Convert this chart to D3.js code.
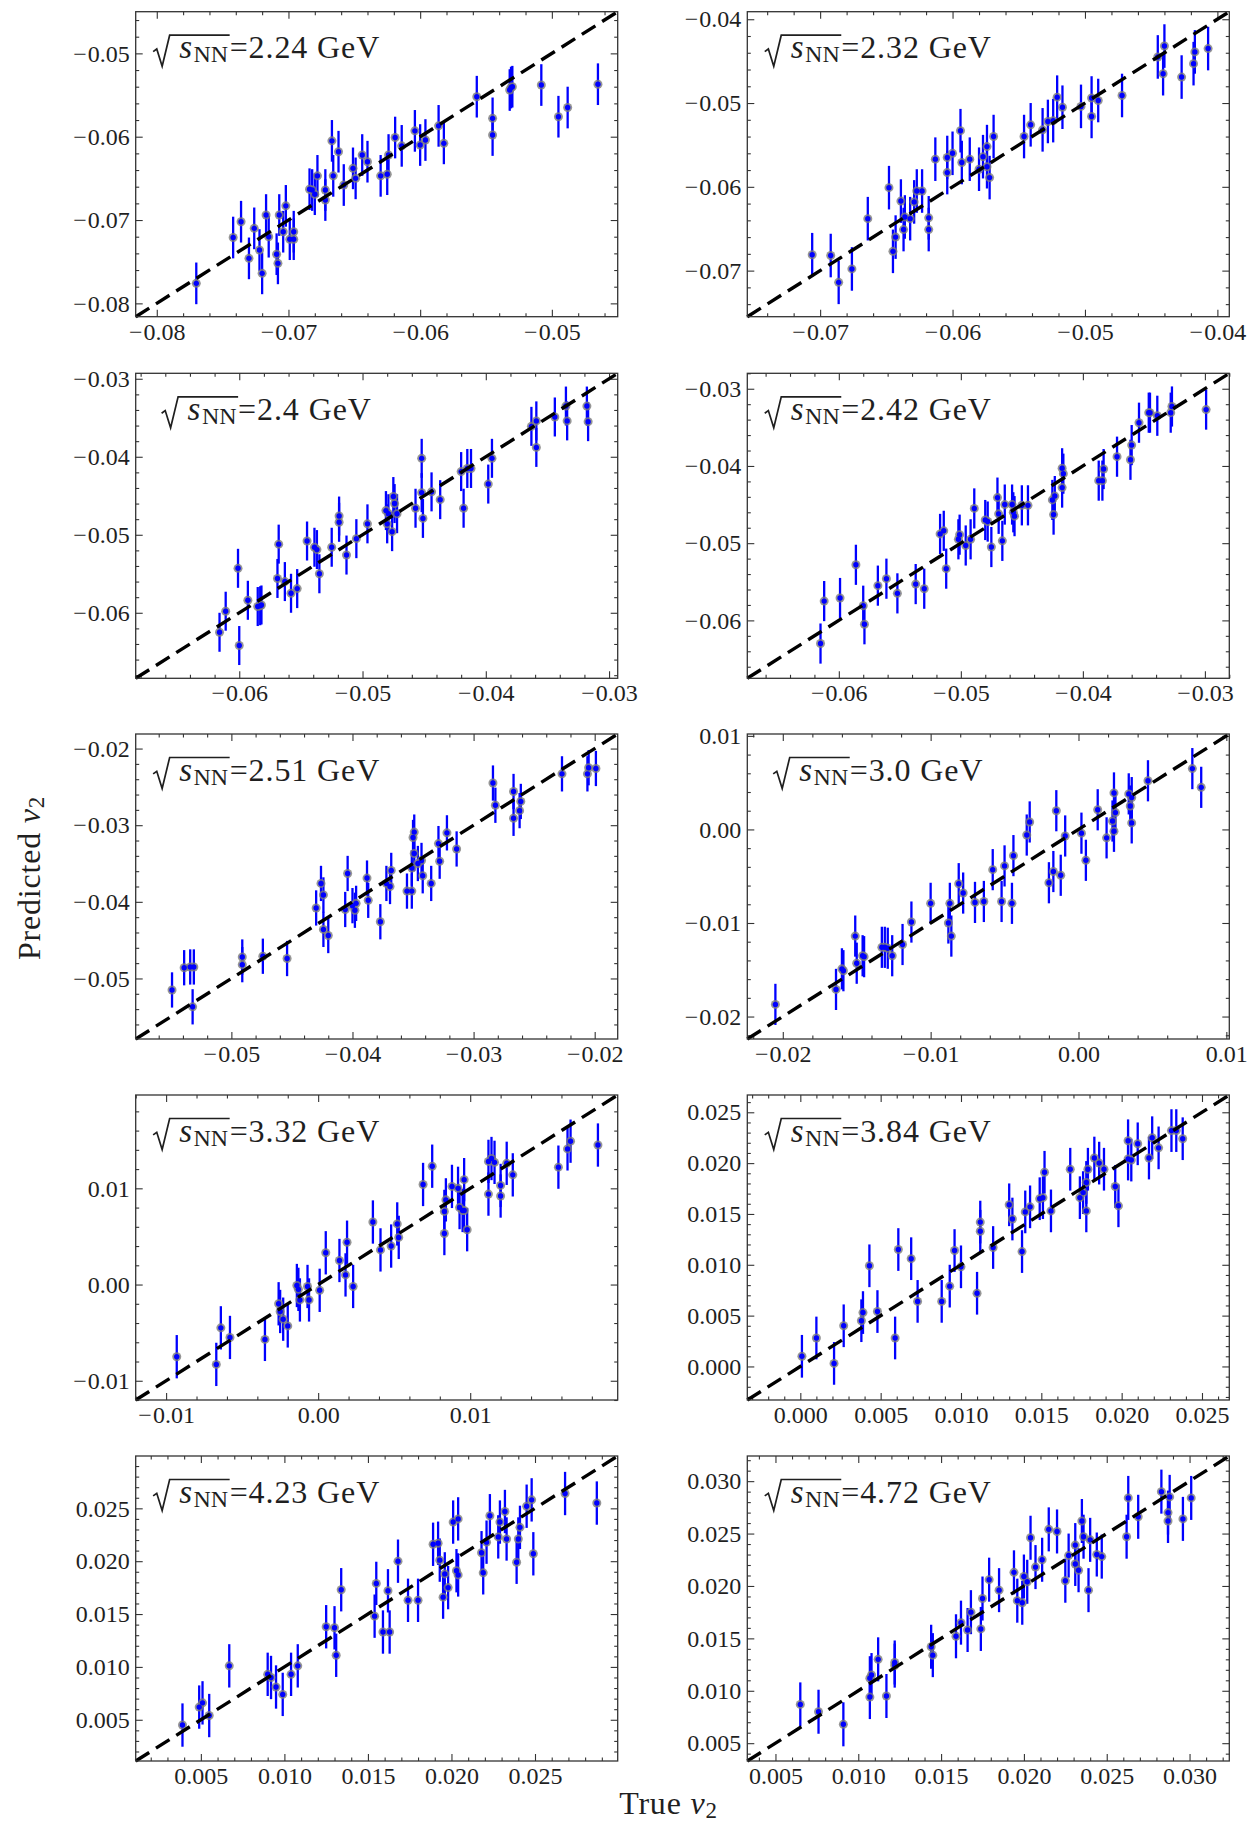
<!DOCTYPE html>
<html><head><meta charset="utf-8">
<script src="https://cdn.jsdelivr.net/npm/d3@7"></script>
<style>
body{margin:0;background:#fff}
svg{display:block}
text{font-family:"Liberation Serif","DejaVu Serif",serif}
</style>
</head><body>
<svg id="c" width="1259" height="1823"></svg>
<script>
// ---------------- data ----------------
const energies = ["2.24","2.32","2.4","2.42","2.51","3.0","3.32","3.84","4.23","4.72"];
const errHalf = [0.0025,0.0026,0.0025,0.0026,0.0023,0.0022,0.00225,0.0021,0.00205,0.0021];
const axisLimits = [
  [-0.0816,-0.0450],[-0.0755,-0.0391],[-0.0684,-0.0293],[-0.0675,-0.0280],[-0.0579,-0.0181],
  [-0.0224,0.0102],[-0.0120,0.0197],[-0.0033,0.0267],[0.0011,0.02995],[0.0033,0.0324]
];
const majorTicks = [
  [-0.08,-0.07,-0.06,-0.05],[-0.07,-0.06,-0.05,-0.04],[-0.06,-0.05,-0.04,-0.03],[-0.06,-0.05,-0.04,-0.03],
  [-0.05,-0.04,-0.03,-0.02],[-0.02,-0.01,0,0.01],[-0.01,0,0.01],
  [0,0.005,0.010,0.015,0.020,0.025],[0.005,0.010,0.015,0.020,0.025,0.030],[0.005,0.010,0.015,0.020,0.025,0.030]
];
const tickDecimals = [2,2,2,2,2,2,2,3,3,3];

const true_224 = [-0.0770,-0.0742,-0.0736,-0.0730,-0.0726,-0.0722,-0.0720,-0.0717,-0.0715,-0.0709,-0.0708,-0.0707,-0.0704,-0.0702,-0.0699,-0.0696,-0.0696,-0.0684,-0.0682,-0.0680,-0.0678,-0.0672,-0.0672,-0.0667,-0.0666,-0.0662,-0.0658,-0.0651,-0.0649,-0.0644,-0.0640,-0.0630,-0.0625,-0.0624,-0.0619,-0.0614,-0.0604,-0.0600,-0.0596,-0.0586,-0.0582,-0.0557,-0.0545,-0.0545,-0.0532,-0.0531,-0.0530,-0.0508,-0.0495,-0.0488,-0.0465];
const pred_224 = [-0.0776,-0.0721,-0.0702,-0.0746,-0.0710,-0.0736,-0.0764,-0.0694,-0.0720,-0.0741,-0.0752,-0.0694,-0.0714,-0.0683,-0.0723,-0.0723,-0.0714,-0.0663,-0.0664,-0.0669,-0.0647,-0.0664,-0.0676,-0.0605,-0.0647,-0.0618,-0.0658,-0.0638,-0.0650,-0.0622,-0.0630,-0.0647,-0.0645,-0.0622,-0.0601,-0.0611,-0.0593,-0.0610,-0.0604,-0.0587,-0.0608,-0.0552,-0.0578,-0.0598,-0.0544,-0.0541,-0.0540,-0.0538,-0.0576,-0.0565,-0.0537];

const true_232 = [-0.0706,-0.0692,-0.0686,-0.0676,-0.0664,-0.0648,-0.0645,-0.0643,-0.0639,-0.0637,-0.0636,-0.0632,-0.0629,-0.0627,-0.0623,-0.0618,-0.0618,-0.0613,-0.0604,-0.0604,-0.0600,-0.0594,-0.0593,-0.0587,-0.0580,-0.0577,-0.0574,-0.0574,-0.0572,-0.0569,-0.0546,-0.0541,-0.0532,-0.0528,-0.0524,-0.0521,-0.0517,-0.0503,-0.0495,-0.0495,-0.0490,-0.0472,-0.0445,-0.0441,-0.0440,-0.0427,-0.0418,-0.0417,-0.0407];
const pred_232 = [-0.0681,-0.0682,-0.0714,-0.0698,-0.0638,-0.0601,-0.0677,-0.0660,-0.0617,-0.0651,-0.0636,-0.0638,-0.0618,-0.0605,-0.0605,-0.0637,-0.0651,-0.0567,-0.0565,-0.0583,-0.0560,-0.0533,-0.0571,-0.0567,-0.0579,-0.0564,-0.0552,-0.0576,-0.0589,-0.0540,-0.0540,-0.0526,-0.0532,-0.0522,-0.0521,-0.0493,-0.0505,-0.0504,-0.0494,-0.0516,-0.0497,-0.0491,-0.0445,-0.0465,-0.0432,-0.0469,-0.0453,-0.0439,-0.0435];

const true_240 = [-0.0616,-0.0611,-0.0601,-0.0600,-0.0593,-0.0585,-0.0583,-0.0582,-0.0569,-0.0568,-0.0563,-0.0558,-0.0553,-0.0545,-0.0539,-0.0537,-0.0535,-0.0525,-0.0519,-0.0519,-0.0513,-0.0505,-0.0496,-0.0481,-0.0480,-0.0479,-0.0476,-0.0475,-0.0474,-0.0472,-0.0457,-0.0452,-0.0452,-0.0451,-0.0444,-0.0437,-0.0420,-0.0418,-0.0415,-0.0412,-0.0398,-0.0395,-0.0363,-0.0359,-0.0359,-0.0344,-0.0335,-0.0334,-0.0318,-0.0317];
const pred_240 = [-0.0625,-0.0598,-0.0543,-0.0642,-0.0584,-0.0592,-0.0591,-0.0590,-0.0556,-0.0512,-0.0560,-0.0575,-0.0569,-0.0508,-0.0516,-0.0519,-0.0550,-0.0516,-0.0484,-0.0476,-0.0526,-0.0505,-0.0486,-0.0469,-0.0486,-0.0473,-0.0496,-0.0451,-0.0460,-0.0473,-0.0466,-0.0446,-0.0402,-0.0479,-0.0445,-0.0455,-0.0419,-0.0466,-0.0415,-0.0415,-0.0435,-0.0402,-0.0361,-0.0354,-0.0388,-0.0349,-0.0335,-0.0354,-0.0335,-0.0355];

const true_242 = [-0.0615,-0.0612,-0.0599,-0.0586,-0.0580,-0.0579,-0.0568,-0.0561,-0.0552,-0.0537,-0.0530,-0.0517,-0.0514,-0.0512,-0.0502,-0.0501,-0.0496,-0.0492,-0.0489,-0.0480,-0.0478,-0.0475,-0.0470,-0.0469,-0.0466,-0.0464,-0.0458,-0.0457,-0.0456,-0.0450,-0.0445,-0.0425,-0.0424,-0.0423,-0.0417,-0.0417,-0.0416,-0.0387,-0.0384,-0.0383,-0.0372,-0.0361,-0.0360,-0.0354,-0.0346,-0.0345,-0.0339,-0.0328,-0.0327,-0.0299];
const pred_242 = [-0.0630,-0.0575,-0.0571,-0.0528,-0.0581,-0.0605,-0.0555,-0.0546,-0.0565,-0.0553,-0.0559,-0.0488,-0.0484,-0.0533,-0.0495,-0.0489,-0.0503,-0.0495,-0.0455,-0.0470,-0.0472,-0.0505,-0.0441,-0.0462,-0.0497,-0.0450,-0.0450,-0.0460,-0.0465,-0.0451,-0.0451,-0.0444,-0.0463,-0.0439,-0.0428,-0.0403,-0.0410,-0.0419,-0.0419,-0.0404,-0.0388,-0.0392,-0.0373,-0.0344,-0.0331,-0.0331,-0.0335,-0.0331,-0.0323,-0.0327];

const true_251 = [-0.0549,-0.0539,-0.0534,-0.0531,-0.0532,-0.0491,-0.0491,-0.0474,-0.0454,-0.0430,-0.0426,-0.0424,-0.0424,-0.0420,-0.0406,-0.0404,-0.0400,-0.0398,-0.0397,-0.0388,-0.0387,-0.0377,-0.0372,-0.0369,-0.0368,-0.0355,-0.0351,-0.0351,-0.0350,-0.0349,-0.0349,-0.0346,-0.0343,-0.0342,-0.0335,-0.0329,-0.0328,-0.0322,-0.0314,-0.0284,-0.0282,-0.0267,-0.0267,-0.0262,-0.0261,-0.0227,-0.0206,-0.0205,-0.0199];
const pred_251 = [-0.0515,-0.0486,-0.0485,-0.0485,-0.0537,-0.0472,-0.0482,-0.0471,-0.0474,-0.0408,-0.0376,-0.0391,-0.0436,-0.0444,-0.0410,-0.0363,-0.0405,-0.0411,-0.0402,-0.0369,-0.0398,-0.0426,-0.0376,-0.0380,-0.0359,-0.0386,-0.0356,-0.0386,-0.0316,-0.0309,-0.0337,-0.0350,-0.0346,-0.0366,-0.0376,-0.0324,-0.0347,-0.0310,-0.0331,-0.0245,-0.0274,-0.0291,-0.0256,-0.0281,-0.0269,-0.0233,-0.0233,-0.0225,-0.0226];

const true_300 = [-0.0205,-0.0164,-0.0160,-0.0159,-0.0151,-0.0150,-0.0146,-0.0145,-0.0133,-0.0131,-0.0129,-0.0126,-0.0119,-0.0113,-0.0100,-0.0088,-0.0087,-0.0086,-0.0081,-0.0078,-0.0070,-0.0064,-0.0058,-0.0052,-0.0050,-0.0045,-0.0044,-0.0035,-0.0033,-0.0020,-0.0017,-0.0015,-0.0012,-0.0009,0.0002,0.0005,0.0013,0.0019,0.0023,0.0024,0.0024,0.0025,0.0034,0.0035,0.0036,0.0036,0.0047,0.0077,0.0083];
const pred_300 = [-0.0187,-0.0171,-0.0149,-0.0151,-0.0114,-0.0143,-0.0135,-0.0136,-0.0126,-0.0126,-0.0127,-0.0135,-0.0123,-0.0099,-0.0079,-0.0100,-0.0079,-0.0114,-0.0058,-0.0068,-0.0078,-0.0077,-0.0043,-0.0077,-0.0039,-0.0079,-0.0028,-0.0006,0.0008,-0.0057,-0.0045,0.0020,-0.0049,-0.0007,-0.0004,-0.0033,0.0021,-0.0009,0.0009,0.0039,-0.0002,0.0018,0.0038,0.0025,0.0007,0.0034,0.0052,0.0065,0.0045];

const true_332 = [-0.0093,-0.0067,-0.0064,-0.0058,-0.0035,-0.0026,-0.0025,-0.0023,-0.0020,-0.0014,-0.0013,-0.0012,-0.0007,-0.0006,0.0001,0.0005,0.0014,0.0018,0.0019,0.0023,0.0036,0.0041,0.0048,0.0052,0.0053,0.0069,0.0075,0.0083,0.0083,0.0084,0.0088,0.0092,0.0093,0.0095,0.0096,0.0096,0.0098,0.0112,0.0112,0.0114,0.0116,0.0120,0.0120,0.0124,0.0128,0.0158,0.0164,0.0166,0.0184];
const pred_332 = [-0.0075,-0.0083,-0.0045,-0.0055,-0.0057,-0.0020,-0.0028,-0.0036,-0.0043,-0.0001,-0.0005,-0.0016,-0.0002,-0.0016,-0.0006,0.0033,0.0025,0.0010,0.0044,-0.0002,0.0065,0.0036,0.0040,0.0063,0.0049,0.0104,0.0123,0.0076,0.0053,0.0088,0.0102,0.0100,0.0080,0.0077,0.0109,0.0077,0.0057,0.0128,0.0094,0.0131,0.0127,0.0103,0.0092,0.0126,0.0114,0.0122,0.0141,0.0149,0.0145];

const true_384 = [0.0001,0.0010,0.0021,0.0027,0.0038,0.0039,0.0043,0.0048,0.0059,0.0061,0.0069,0.0073,0.0088,0.0093,0.0096,0.0100,0.0110,0.0112,0.0112,0.0120,0.0130,0.0132,0.0138,0.0140,0.0143,0.0149,0.0151,0.0152,0.0156,0.0168,0.0174,0.0176,0.0178,0.0178,0.0179,0.0183,0.0186,0.0189,0.0196,0.0198,0.0204,0.0204,0.0206,0.0210,0.0217,0.0219,0.0223,0.0231,0.0234,0.0238];
const pred_384 = [0.0010,0.0028,0.0003,0.0040,0.0045,0.0053,0.0099,0.0054,0.0028,0.0115,0.0106,0.0064,0.0064,0.0079,0.0114,0.0098,0.0072,0.0142,0.0133,0.0117,0.0159,0.0145,0.0113,0.0152,0.0157,0.0165,0.0166,0.0191,0.0153,0.0194,0.0166,0.0171,0.0181,0.0153,0.0194,0.0205,0.0200,0.0194,0.0177,0.0158,0.0204,0.0222,0.0203,0.0219,0.0205,0.0225,0.0215,0.0232,0.0232,0.0224];

const true_423 = [0.0039,0.0049,0.0051,0.0055,0.0067,0.0090,0.0092,0.0095,0.0099,0.0104,0.0108,0.0125,0.0130,0.0131,0.0134,0.0154,0.0155,0.0159,0.0162,0.0163,0.0168,0.0174,0.0180,0.0189,0.0192,0.0193,0.0195,0.0196,0.0198,0.0201,0.0203,0.0204,0.0204,0.0218,0.0219,0.0221,0.0223,0.0228,0.0229,0.0232,0.0233,0.0239,0.0240,0.0241,0.0245,0.0248,0.0249,0.0268,0.0287];
const pred_423 = [0.0045,0.0062,0.0066,0.0054,0.0101,0.0093,0.0090,0.0081,0.0074,0.0093,0.0101,0.0138,0.0137,0.0111,0.0173,0.0148,0.0179,0.0133,0.0172,0.0133,0.0200,0.0163,0.0163,0.0216,0.0217,0.0201,0.0166,0.0188,0.0175,0.0237,0.0191,0.0187,0.0240,0.0208,0.0189,0.0218,0.0243,0.0223,0.0237,0.0247,0.0221,0.0199,0.0221,0.0232,0.0252,0.0258,0.0207,0.0264,0.0255];

const true_472 = [0.0065,0.0076,0.0091,0.0107,0.0107,0.0108,0.0112,0.0117,0.0122,0.0122,0.0144,0.0145,0.0159,0.0162,0.0166,0.0168,0.0174,0.0175,0.0179,0.0185,0.0194,0.0196,0.0199,0.0200,0.0202,0.0204,0.0207,0.0211,0.0215,0.0220,0.0225,0.0227,0.0231,0.0231,0.0233,0.0235,0.0236,0.0239,0.0240,0.0244,0.0247,0.0262,0.0263,0.0269,0.0283,0.0287,0.0287,0.0288,0.0296,0.0301];
const pred_472 = [0.0087,0.0080,0.0068,0.0112,0.0094,0.0115,0.0130,0.0095,0.0127,0.0124,0.0142,0.0134,0.0152,0.0165,0.0158,0.0175,0.0159,0.0188,0.0206,0.0196,0.0213,0.0186,0.0184,0.0209,0.0204,0.0246,0.0218,0.0225,0.0254,0.0252,0.0205,0.0229,0.0239,0.0221,0.0215,0.0262,0.0247,0.0196,0.0244,0.0230,0.0228,0.0247,0.0284,0.0266,0.0290,0.0270,0.0262,0.0285,0.0264,0.0284];

const trueSets = [true_224,true_232,true_240,true_242,true_251,true_300,true_332,true_384,true_423,true_472];
const predSets = [pred_224,pred_232,pred_240,pred_242,pred_251,pred_300,pred_332,pred_384,pred_423,pred_472];

// ---------------- layout ----------------
const colX = [135.7, 747.3];
const rowY = [11.7, 373.3, 734, 1095, 1456];
const W = 482, H = 305;
const svg = d3.select("#c");
const INK = "#1f1f1f";

function minorTicks(lim, majors){
  const step = (majors[1]-majors[0])/5;
  const out = [];
  const k0 = Math.ceil(lim[0]/step - 1e-6), k1 = Math.floor(lim[1]/step + 1e-6);
  for(let k=k0;k<=k1;k++){
    const v = k*step;
    if(!majors.some(m=>Math.abs(m-v)<step*0.01)) out.push(v);
  }
  return out;
}

function styleAxis(g){
  g.select(".domain").remove();
  g.selectAll(".tick line").attr("stroke","#333").attr("stroke-width",1.1);
  g.attr("font-size",24).attr("font-family",'"Liberation Serif",serif');
  g.selectAll(".tick text").attr("fill",INK).each(function(){
    const t = d3.select(this);
    const s = t.text();
    if(s.startsWith("\u2212")){
      t.text("");
      t.append("tspan").text("\u2212");
      t.append("tspan").attr("dx",1).text(s.slice(1));
    }
  });
}

energies.forEach((en,i)=>{
  const L = colX[i%2], T = rowY[Math.floor(i/2)];
  const lim = axisLimits[i];
  const x = d3.scaleLinear().domain(lim).range([L, L+W]);
  const y = d3.scaleLinear().domain(lim).range([T+H, T]);
  const majors = majorTicks[i].filter(v=>v>=lim[0]-1e-9 && v<=lim[1]+1e-9);
  const minors = minorTicks(lim, majorTicks[i]);
  const fmt = d3.format("."+tickDecimals[i]+"f");
  const g = svg.append("g");

  const mk = (axisFn, scale, pos, vals, size, labels) => {
    const a = axisFn(scale).tickValues(vals).tickSize(-size).tickSizeOuter(0).tickPadding(6)
      .tickFormat(labels ? fmt : "");
    const ag = g.append("g").attr("transform", pos).call(a);
    styleAxis(ag);
  };
  mk(d3.axisBottom, x, `translate(0,${T+H})`, majors, 7, true);
  mk(d3.axisBottom, x, `translate(0,${T+H})`, minors, 3.5, false);
  mk(d3.axisTop, x, `translate(0,${T})`, majors, 7, false);
  mk(d3.axisTop, x, `translate(0,${T})`, minors, 3.5, false);
  mk(d3.axisLeft, y, `translate(${L},0)`, majors, 7, true);
  mk(d3.axisLeft, y, `translate(${L},0)`, minors, 3.5, false);
  mk(d3.axisRight, y, `translate(${L+W},0)`, majors, 7, false);
  mk(d3.axisRight, y, `translate(${L+W},0)`, minors, 3.5, false);

  // points with error bars
  const tv = trueSets[i], pv = predSets[i];
  const pts = d3.range(Math.min(tv.length, pv.length)).map(k=>({t:tv[k], p:pv[k]}));
  const e = errHalf[i];
  const pg = g.append("g");
  pg.selectAll("line.err").data(pts).join("line").attr("class","err")
    .attr("x1",d=>x(d.t)).attr("x2",d=>x(d.t))
    .attr("y1",d=>y(d.p-e)).attr("y2",d=>y(d.p+e))
    .attr("stroke","#0000ff").attr("stroke-width",2.3);
  pg.selectAll("circle.halo").data(pts).join("circle").attr("class","halo")
    .attr("cx",d=>x(d.t)).attr("cy",d=>y(d.p)).attr("r",4.5)
    .attr("fill","#7a7a7a").attr("fill-opacity",0.8);
  pg.selectAll("circle.dot").data(pts).join("circle").attr("class","dot")
    .attr("cx",d=>x(d.t)).attr("cy",d=>y(d.p)).attr("r",2.7)
    .attr("fill","#0000ff");

  // y = x dashed line
  g.append("line")
    .attr("x1",x(lim[0])).attr("y1",y(lim[0]))
    .attr("x2",x(lim[1])).attr("y2",y(lim[1]))
    .attr("stroke","#000").attr("stroke-width",3.4)
    .attr("stroke-dasharray","16,8");

  // frame
  g.append("rect").attr("x",L).attr("y",T).attr("width",W).attr("height",H)
    .attr("fill","none").attr("stroke","#333").attr("stroke-width",1.3);

  // panel label: sqrt(s_NN)=E GeV
  const lg = g.append("g");
  const sT = lg.append("text").attr("x",26).attr("y",0).attr("font-size",33)
    .attr("font-style","italic").attr("fill",INK).text("s");
  const sw = sT.node().getComputedTextLength();
  const nn = lg.append("text").attr("x",26+sw+1.5).attr("y",4).attr("font-size",24)
    .attr("fill",INK).text("NN");
  const nnw = nn.node().getComputedTextLength();
  const barEnd = 26+sw+1.5+nnw+1.5;
  lg.append("path")
    .attr("d",`M0,-6.6 L3.6,-9.2 L9,8 L16.5,-23 L${barEnd},-23`)
    .attr("fill","none").attr("stroke",INK).attr("stroke-width",1.7)
    .attr("stroke-linejoin","miter");
  const eq = lg.append("text").attr("x",barEnd).attr("y",0).attr("font-size",32)
    .attr("letter-spacing",0.9).attr("fill",INK).text("="+en+" GeV");
  const total = barEnd + eq.node().getComputedTextLength();
  lg.attr("transform",`translate(${L+131-total/2},${T+46.5})`);
});

// global axis labels
const xl = svg.append("text").attr("x",668.5).attr("y",1814).attr("font-size",32)
  .attr("letter-spacing",0.8).attr("text-anchor","middle").attr("fill",INK);
xl.append("tspan").text("True ");
xl.append("tspan").attr("font-style","italic").text("v");
xl.append("tspan").attr("font-size",23).attr("dy",4).text("2");

const yl = svg.append("text").attr("transform","translate(40,878) rotate(-90)")
  .attr("font-size",32).attr("letter-spacing",0.8).attr("text-anchor","middle").attr("fill",INK);
yl.append("tspan").text("Predicted ");
yl.append("tspan").attr("font-style","italic").text("v");
yl.append("tspan").attr("font-size",23).attr("dy",4).text("2");
</script>
</body></html>
